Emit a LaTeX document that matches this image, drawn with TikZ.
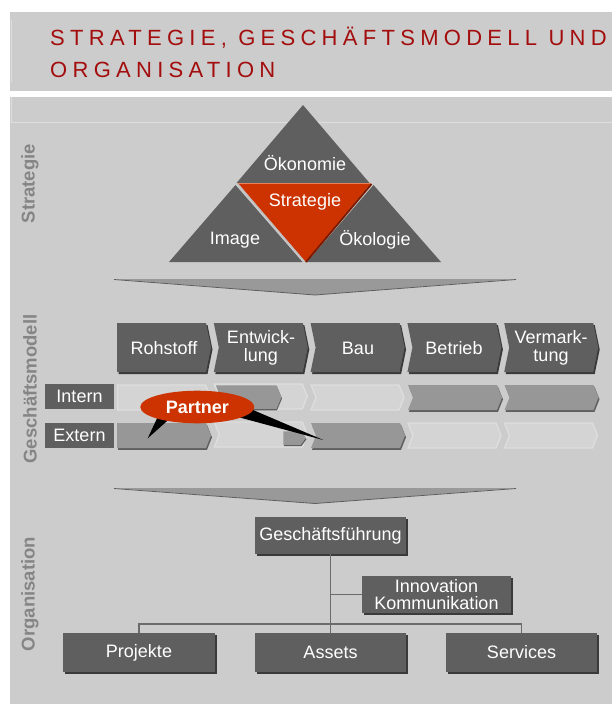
\documentclass[tikz,border=0pt]{standalone}
\usepackage{fontspec}
\setmainfont{Liberation Sans}
\newfontfamily\titlefont[LetterSpace=24]{Liberation Sans}
\usetikzlibrary{shadows,shapes.geometric}
\definecolor{bgc}{HTML}{CCCCCC}
\definecolor{darkc}{HTML}{5F5F5F}
\definecolor{shadowc}{HTML}{3A3A3A}
\definecolor{midc}{HTML}{979797}
\definecolor{midsh}{HTML}{5E5E5E}
\definecolor{lightfill}{HTML}{D4D4D4}
\definecolor{lightline}{HTML}{DEDEDE}
\definecolor{redc}{HTML}{CC3300}
\definecolor{titlec}{HTML}{A30D0D}
\definecolor{labelc}{HTML}{858585}
\definecolor{linec}{HTML}{6B6B6B}
\definecolor{arrowc}{HTML}{999999}
\tikzset{
  pics/chev/.style n args={3}{code={
    \path[pic actions] (0,0) -- (#1-5,0) -- (#1,#2/2) -- (#1-5,#2) -- (0,#2) -- (#3,#2/2) -- cycle;
  }},
  wlbl/.style={text=white, font=\fontsize{18}{18}\selectfont, align=center, inner sep=0pt},
  seclbl/.style={text=labelc, font=\bfseries\fontsize{18.5}{20}\selectfont, rotate=90, inner sep=0pt},
  orgbox/.style={fill=darkc, text=white, font=\fontsize{18}{17.5}\selectfont, align=center,
    inner sep=0pt, general shadow={fill=shadowc, shadow xshift=2pt, shadow yshift=-2pt}},
  conn/.style={draw=linec, line width=1.3pt},
}
\newcommand\hdrchev[2]{%
  \pic[fill=shadowc] at ({#1+1.5},{#2+2}) {chev={94}{49}{5}};
  \pic[fill=darkc] at (#1,#2) {chev={94}{49}{5}};}
\newcommand\fullbar[3]{% x y notch
  \pic[fill=midsh] at ({#1+1},{#2+1.8}) {chev={94}{25}{#3}};
  \pic[fill=midc] at (#1,#2) {chev={94}{25}{#3}};}
\newcommand\emptybar[3]{%
  \pic[fill=lightfill, draw=lightline, line width=1.3pt] at (#1,#2) {chev={93}{25}{#3}};}
\begin{document}
\begin{tikzpicture}[x=1pt,y=-1pt]
\useasboundingbox (0,0) rectangle (612,704);
\fill[white] (0,0) rectangle (612,704);
% title box
\fill[bgc] (10,11.7) rectangle (612,91);
\draw[lightline, line width=0.8pt] (11.7,20) -- (11.7,82);
\node[anchor=base west, inner sep=0pt, text=titlec, font=\titlefont\fontsize{22}{24}\selectfont] (t1) at (50,45) {STRATEGIE, GESCHÄFTSMODELL UND};
\node[anchor=base west, inner sep=0pt, text=titlec, font=\titlefont\fontsize{22}{24}\selectfont] (t2) at (50,77.3) {ORGANISATION};
% main panel
\fill[bgc] (10,96.7) rectangle (612,704);
\draw[lightline, line width=0.8pt] (11.7,97) -- (11.7,122) -- (612,122);
% section labels
\node[seclbl] (s1) at (30,183.7) {Strategie};
\node[seclbl] (s2) at (30,389) {Geschäftsmodell};
\node[seclbl] (s3) at (30,594) {Organisation};
% triangle
\fill[darkc] (303,105) -- (369.5,183) -- (236.5,183) -- cycle;
\fill[darkc] (235.5,185) -- (302.5,262) -- (169,262) -- cycle;
\fill[darkc] (373.5,185) -- (441,262) -- (307,262) -- cycle;
\fill[redc] (238,183) -- (371,183) -- (305.5,262) -- cycle;
\draw[line width=1.5pt, color={rgb,255:red,232;green,130;blue,90}] (238,183.3) -- (371,183.3);
\draw[line width=1.2pt, color={rgb,255:red,190;green,190;blue,190}] (237,183.5) -- (305,262);
\draw[line width=1.8pt, color={rgb,255:red,120;green,25;blue,0}] (371.5,184) -- (306,262);
\node[wlbl] (oek) at (305,163) {Ökonomie};
\node[wlbl] (str) at (305,202) {Strategie};
\node[wlbl] (img) at (235,240) {Image};
\node[wlbl] (okl) at (375,240) {Ökologie};
% arrow 1
\fill[arrowc] (114,279) -- (516,279) -- (315,295) -- cycle;
\draw[midsh, line width=0.8pt] (114,279.5) -- (315,295) -- (516,279.5);
% header chevrons
\hdrchev{117}{323}
\hdrchev{213.8}{323}
\hdrchev{310.6}{323}
\hdrchev{407.4}{323}
\hdrchev{504.2}{323}
\fill[darkc] (117,323) rectangle (123,372);
\node[wlbl] (c1) at (164,348) {Rohstoff};
\node[wlbl] (c2) at (261,348) {Entwick-\\lung};
\node[wlbl] (c3) at (358,348) {Bau};
\node[wlbl] (c4) at (454,348) {Betrieb};
\node[wlbl] (c5) at (551,348) {Vermark-\\tung};
% intern / extern labels
\node[fill=darkc, text=white, font=\fontsize{18}{18}\selectfont, minimum width=69pt, minimum height=25pt, inner sep=0pt] (intern) at (79.5,396.5) {Intern};
\node[fill=darkc, text=white, font=\fontsize{18}{18}\selectfont, minimum width=69pt, minimum height=25pt, inner sep=0pt] (extern) at (79.5,435.5) {Extern};
% intern row
\emptybar{117.5}{385}{0}
\emptybar{214.3}{384}{5}
\pic[fill=midsh] at (217,386.8) {chev={65}{23.5}{4}};
\pic[fill=midc] at (216,385.3) {chev={65.5}{23.5}{4}};
\emptybar{311}{385}{5}
\fullbar{408}{385}{5}
\fullbar{504.5}{385}{5}
% extern row
\fullbar{117}{423}{0}
\emptybar{214.3}{422}{5}
\pic[fill=midsh] at (284,432.5) {chev={22.5}{13.5}{0}};
\pic[fill=midc] at (283.3,431.3) {chev={22.5}{13.5}{0}};
\fullbar{311}{423}{5}
\emptybar{408}{423}{5}
\emptybar{504.5}{423}{5}
% partner callout
\fill[black] (160,412) -- (175,414) -- (147.7,438.3) -- cycle;
\fill[black] (246,407) -- (236,416.5) -- (323.3,440) -- cycle;
\node[ellipse, fill=redc, minimum width=114pt, minimum height=32.6pt, inner sep=0pt, text=white, font=\bfseries\fontsize{18}{18}\selectfont] (partner) at (197.3,407) {Partner};
% arrow 2
\fill[arrowc] (114,488) -- (516,488) -- (315,503.5) -- cycle;
\draw[midsh, line width=0.8pt] (114,488.5) -- (315,503.5) -- (516,488.5);
% organisation
\node[orgbox, minimum width=151pt, minimum height=37pt] (gf) at (330.5,535.5) {Geschäftsführung};
\node[orgbox, minimum width=149pt, minimum height=37pt] (inno) at (436.5,594.5) {Innovation\\Kommunikation};
\node[orgbox, minimum width=151.5pt, minimum height=38.5pt] (proj) at (139,652.5) {Projekte};
\node[orgbox, minimum width=151.5pt, minimum height=38.5pt] (assets) at (330.5,652.5) {Assets};
\node[orgbox, minimum width=151.5pt, minimum height=38.5pt] (serv) at (521.5,652.5) {Services};
\draw[conn] (gf.south) -- (assets.north);
\draw[conn] (proj.north) -- ++(0,-9) -| (serv.north);
\draw[conn] (gf.south |- inno.west) -- (inno.west);
\end{tikzpicture}
\end{document}
